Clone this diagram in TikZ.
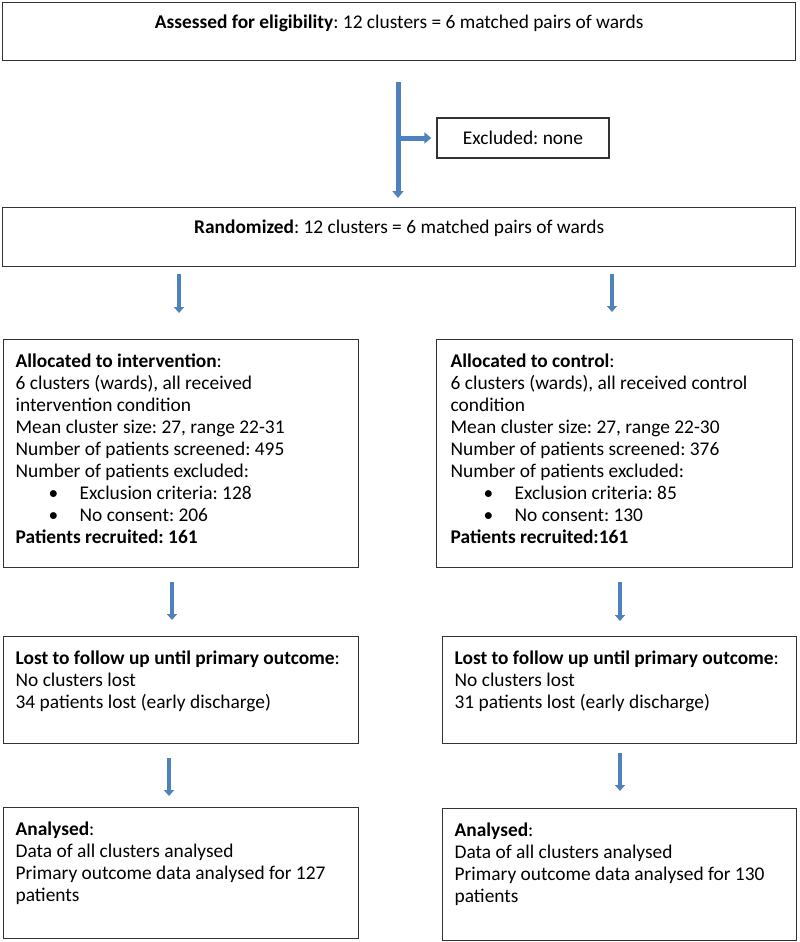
\documentclass[tikz,border=0pt]{standalone}
\usepackage{fontspec}
\setmainfont{Carlito}
\usetikzlibrary{arrows.meta}
\definecolor{arrowblue}{HTML}{4F81BD}
\definecolor{boxline}{HTML}{333333}
\tikzset{
  flowbox/.style={draw=boxline, line width=1.3pt, inner xsep=12pt, inner ysep=0pt,
    anchor=north west, font=\fontsize{19.4}{22}\selectfont},
  barrow/.style={draw=arrowblue, line width=5pt, -{Triangle[width=11pt,length=7pt]}},
  sarrow/.style={draw=arrowblue, line width=4.5pt, -{Triangle[width=10pt,length=6pt]}},
}
\newcommand{\flowtext}[3]{\parbox[t][#1][t]{#2}{\raggedright\rule{0pt}{28pt}#3}}
\newcommand{\flowbullet}[1]{\hspace*{33pt}\makebox[31pt][l]{\textbullet}#1}
\frenchspacing
\begin{document}
\begin{tikzpicture}[x=1pt,y=-1pt]
\useasboundingbox (0,0) rectangle (800,942);

\node[flowbox, inner xsep=0pt] (assess) at (2,2)
  {\parbox[t][58pt][t]{793pt}{\centering\rule{0pt}{26pt}\textbf{Assessed for eligibility}: 12 clusters = 6 matched pairs of wards}};
\node[flowbox, anchor=center, inner sep=0pt, minimum width=172pt, minimum height=40pt] (excl) at (523,138) {Excluded: none};
\node[flowbox, inner xsep=0pt] (rand) at (2,207)
  {\parbox[t][59pt][t]{793pt}{\centering\rule{0pt}{26pt}\textbf{Randomized}: 12 clusters = 6 matched pairs of wards}};

\node[flowbox] (alloc1) at (3,339) {\flowtext{228pt}{331pt}{%
  \textbf{Allocated to intervention}:\\
  6 clusters (wards), all received\\
  intervention condition\\
  Mean cluster size: 27, range 22-31\\
  Number of patients screened: 495\\
  Number of patients excluded:\\
  \flowbullet{Exclusion criteria: 128}\\
  \flowbullet{No consent: 206}\\
  \textbf{Patients recruited: 161}}};
\node[flowbox, inner xsep=14pt] (alloc2) at (436,339) {\flowtext{228pt}{328pt}{%
  \textbf{Allocated to control}:\\
  6 clusters (wards), all received control\\
  condition\\
  Mean cluster size: 27, range 22-30\\
  Number of patients screened: 376\\
  Number of patients excluded:\\
  \flowbullet{Exclusion criteria: 85}\\
  \flowbullet{No consent: 130}\\
  \textbf{Patients recruited:161}}};

\node[flowbox] (lost1) at (3,636) {\flowtext{107pt}{331pt}{%
  \textbf{Lost to follow up until primary outcome}:\\
  No clusters lost\\
  34 patients lost (early discharge)}};
\node[flowbox] (lost2) at (442,636) {\flowtext{107pt}{330pt}{%
  \textbf{Lost to follow up until primary outcome}:\\
  No clusters lost\\
  31 patients lost (early discharge)}};

\node[flowbox] (anal1) at (3,807) {\flowtext{131pt}{331pt}{%
  \textbf{Analysed}:\\
  Data of all clusters analysed\\
  Primary outcome data analysed for 127\\
  patients}};
\node[flowbox] (anal2) at (442,808) {\flowtext{132pt}{330pt}{%
  \textbf{Analysed}:\\
  Data of all clusters analysed\\
  Primary outcome data analysed for 130\\
  patients}};

% arrows
\draw[barrow, shorten <=21pt, shorten >=9pt] (assess.south -| 398,0) -- (rand.north -| 398,0);
\coordinate (branch) at (398,138);
\draw[barrow, shorten >=5pt] (branch) -- (branch -| excl.west);

\draw[sarrow, shorten <=7pt, shorten >=26pt] (rand.south -| 179,0) -- (alloc1.north -| 179,0);
\draw[sarrow, shorten <=7pt, shorten >=27pt] (rand.south -| 612,0) -- (alloc2.north -| 612,0);
\draw[sarrow, shorten <=14pt, shorten >=16pt] (alloc1.south -| 172,0) -- (lost1.north -| 172,0);
\draw[sarrow, shorten <=14pt, shorten >=15pt] (alloc2.south -| 620,0) -- (lost2.north -| 620,0);
\draw[sarrow, shorten <=14pt, shorten >=11pt] (lost1.south -| 169,0) -- (anal1.north -| 169,0);
\draw[sarrow, shorten <=9pt, shorten >=17pt] (lost2.south -| 620,0) -- (anal2.north -| 620,0);
\end{tikzpicture}
\end{document}
